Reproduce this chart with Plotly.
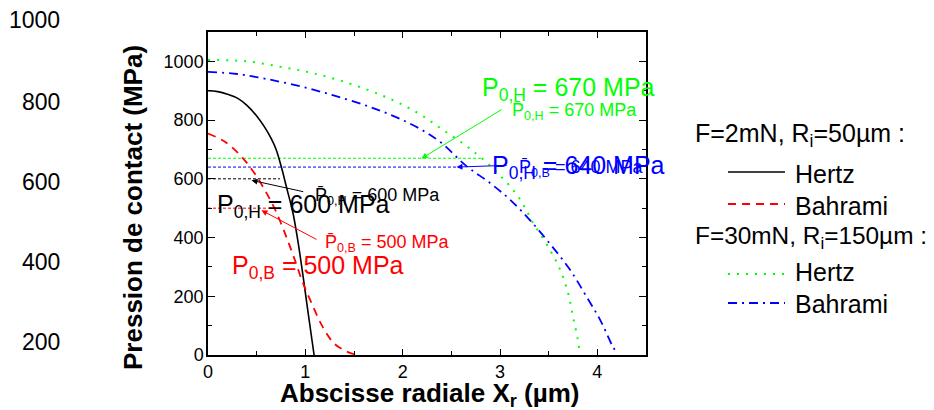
import plotly.graph_objects as go

# ---------------- data ----------------
hertz2_x = [0, 0.1, 0.2, 0.31, 0.4, 0.51, 0.58, 0.65, 0.7, 0.754, 0.806, 0.874, 0.925, 0.976, 1.028, 1.09]
hertz2_y = [900, 897, 888, 873, 850, 810, 777, 737, 700, 640, 572, 482, 385, 270, 145, 0]

bahr2_x = [0, 0.17, 0.34, 0.48, 0.6, 0.69, 0.79, 0.88, 0.97, 1.07, 1.18, 1.3, 1.45, 1.5]
bahr2_y = [754, 727, 677, 618, 552, 495, 415, 335, 250, 172, 95, 38, 8, 3]

hertz30_x = [0, 0.4, 0.77, 1.1, 1.46, 1.78, 2.0, 2.2, 2.42, 2.69, 2.96, 3.19, 3.34, 3.51, 3.62, 3.70, 3.75, 3.80, 3.82]
hertz30_y = [1005, 1000, 980, 958, 924, 885, 852, 815, 765, 703, 625, 538, 450, 360, 289, 210, 130, 51, 5]

bahr30_x = [0, 0.3, 0.6, 0.95, 1.29, 1.6, 1.8, 2.0, 2.2, 2.4, 2.65, 2.9, 3.1, 3.3, 3.51, 3.72, 3.89, 4.03, 4.16, 4.2]
bahr30_y = [964, 957, 940, 915, 884, 852, 828, 800, 766, 722, 645, 585, 530, 462, 380, 290, 198, 119, 28, 8]

# mean-pressure reference levels and where their dashed lines stop
ref_levels = [600, 500, 670, 640]
ref_ends = [0.74, 0.72, 2.82, 2.6]
ref_colors = ["#000000", "#ff0000", "#00ff00", "#0000ff"]

x_ticks = [0, 1, 2, 3, 4]
y_ticks = [0, 200, 400, 600, 800, 1000]
stray_labels = ["1000", "800", "600", "400", "200"]

BLACK, RED, GREEN, BLUE = "#000000", "#ff0000", "#00ff00", "#0000ff"
FONT = "Arial, Liberation Sans, sans-serif"

# ---------------- geometry (page pixels; the page body adds an 8 px offset) ----------------
OFF = 8
WIN_W, WIN_H = 934, 410
L, R, T, B = 208, 646, 32, 355          # plot frame in page pixels
W, H = WIN_W - OFF, WIN_H - OFF          # figure size


def px(xp):
    return (xp - L) / (R - L)


def py(yp):
    return (B - yp) / (B - T)


fig = go.Figure()

for lev, end, col in zip(ref_levels, ref_ends, ref_colors):
    fig.add_trace(go.Scatter(x=[0, end], y=[lev, lev], mode="lines",
                             line=dict(color=col, width=1, dash="3px,2px"),
                             hoverinfo="skip", showlegend=False))

fig.add_trace(go.Scatter(x=hertz2_x, y=hertz2_y, mode="lines", line_shape="spline",
                         line=dict(color=BLACK, width=1.6), showlegend=False))
fig.add_trace(go.Scatter(x=bahr2_x, y=bahr2_y, mode="lines", line_shape="spline",
                         line=dict(color=RED, width=1.8, dash="8px,6px"), showlegend=False))
fig.add_trace(go.Scatter(x=hertz30_x, y=hertz30_y, mode="lines", line_shape="spline",
                         line=dict(color=GREEN, width=2, dash="2px,7px"), showlegend=False))
fig.add_trace(go.Scatter(x=bahr30_x, y=bahr30_y, mode="lines", line_shape="spline",
                         line=dict(color=BLUE, width=1.8, dash="9px,5px,2px,5px"), showlegend=False))

ann = []


def text(xp, yp, s, size, color, anchor="left", angle=0, bold=False):
    ann.append(dict(x=px(xp), y=py(yp), xref="paper", yref="paper",
                    text=("<b>%s</b>" % s) if bold else s, showarrow=False, textangle=angle,
                    xanchor=anchor, yanchor="middle", font=dict(family=FONT, size=size, color=color)))


def arrow(hx, hy, tx, ty, color):
    ann.append(dict(x=hx, y=hy, ax=tx, ay=ty, xref="x", yref="y", axref="x", ayref="y",
                    text="", showarrow=True, arrowhead=2, arrowsize=1.2, arrowwidth=1,
                    arrowcolor=color))


PB = "P\u0304"

# big labels
text(480, 89, "P<sub>0,H</sub> = 670 MPa", 25, GREEN)
text(490, 167, "P<sub>0,H</sub> = 640 MPa", 25, BLUE)
text(215, 206, "P<sub>0,H</sub> = 600 MPa", 25, BLACK)
text(230, 267, "P<sub>0,B</sub> = 500 MPa", 25, RED)
# small labels
text(510, 112, PB + "<sub>0,H</sub> = 670 MPa", 18, GREEN)
text(517, 168, PB + "<sub>0,B</sub> = 640 MPa", 18, BLUE)
text(313, 196, PB + "<sub>0,H</sub> = 600 MPa", 18, BLACK)
text(323, 243, PB + "<sub>0,B</sub> = 500 MPa", 18, RED)

# arrows
arrow(0.447, 595, 0.994, 555, BLACK)
arrow(0.549, 493, 1.13, 391, RED)
arrow(2.193, 669, 3.032, 839, GREEN)
arrow(2.553, 640, 3.083, 646, BLUE)

# custom legend
text(693, 135, "F=2mN, R<sub>i</sub>=50µm :", 25, BLACK)
text(793, 174, "Hertz", 25, BLACK)
text(793, 206, "Bahrami", 25, BLACK)
text(693, 237, "F=30mN, R<sub>i</sub>=150µm :", 24.4, BLACK)
text(793, 272, "Hertz", 25, BLACK)
text(793, 304, "Bahrami", 25, BLACK)

shapes = []
for yp, col, dash, w in [(172, BLACK, "solid", 1.6), (204, RED, "8px,6px", 1.8),
                         (274, GREEN, "2px,7px", 2), (303, BLUE, "9px,5px,2px,5px", 1.8)]:
    shapes.append(dict(type="line", xref="paper", yref="paper", x0=px(728), x1=px(785),
                       y0=py(yp), y1=py(yp), line=dict(color=col, width=w, dash=dash)))

for lab, yp in zip(stray_labels, [20, 102, 182, 262, 342]):
    ann.append(dict(x=px(62), y=py(yp), xref="paper", yref="paper", text=lab, showarrow=False,
                    xanchor="right", yanchor="middle", font=dict(family=FONT, size=23, color=BLACK)))

# axis titles (placed as in the reference)
text(133, 208, "Pression de contact (MPa)", 26, BLACK, anchor="center", angle=-90, bold=True)
text(430, 394, "Abscisse radiale X<sub>r</sub> (µm)", 26, BLACK, anchor="center", bold=True)

axis_common = dict(showline=True, linecolor=BLACK, linewidth=1.5, mirror="ticks",
                   ticks="inside", tickcolor=BLACK, tickwidth=1.3, showgrid=False, zeroline=False,
                   automargin=False, tickfont=dict(family=FONT, size=18, color=BLACK))

fig.update_layout(
    width=W, height=H,
    margin=dict(l=L - OFF, r=W - (R - OFF), t=T - OFF, b=H - (B - OFF), autoexpand=False),
    paper_bgcolor="white", plot_bgcolor="white",
    showlegend=False,
    annotations=ann, shapes=shapes,
    xaxis=dict(range=[0, 4.5], tickvals=x_ticks, ticklen=6,
               minor=dict(dtick=0.5, ticklen=4, ticks="inside", tickcolor=BLACK, tickwidth=1.3),
               **axis_common),
    yaxis=dict(range=[0, 1100], tickvals=y_ticks, ticklen=7, ticklabelstandoff=-1,
               ticksuffix="\u00a0",
               minor=dict(dtick=100, ticklen=4, ticks="inside", tickcolor=BLACK, tickwidth=1.3),
               **axis_common),
)

fig.write_html("out.html")
